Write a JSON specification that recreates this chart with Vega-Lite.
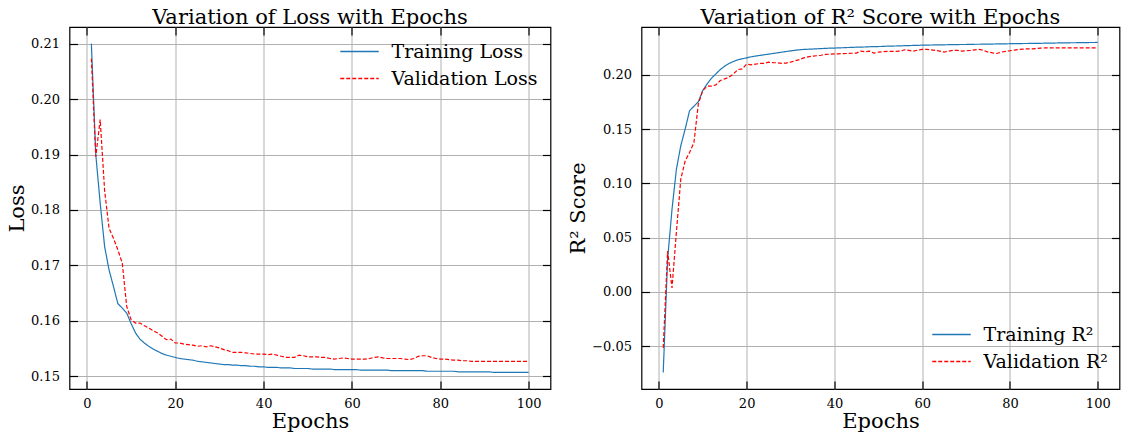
{
 "$schema": "https://vega.github.io/schema/vega-lite/v6.json",
 "background": "white",
 "padding": {"left": 5.5, "top": 6, "right": 3, "bottom": 2},
 "bounds": "flush",
 "spacing": 91,
 "config": {
  "font": "DejaVu Serif",
  "view": {"stroke": "black", "strokeWidth": 1.2},
  "axis": {"domain": false, "grid": true, "gridColor": "#b0b0b0", "gridWidth": 1, "tickColor": "black", "tickSize": -8, "tickWidth": 1.2, "labelFont": "DejaVu Serif", "labelFontSize": 13, "labelColor": "black", "titleFont": "DejaVu Serif", "titleFontSize": 21, "titleFontWeight": "normal", "titleColor": "black"},
  "title": {"font": "DejaVu Serif", "fontSize": 21, "fontWeight": "normal", "color": "black", "offset": -2, "frame": "group"},
  "legend": {"symbolType": "stroke", "symbolSize": 1480, "symbolStrokeWidth": 1.4, "symbolOpacity": 1, "labelFont": "DejaVu Serif", "labelFontSize": 19, "labelColor": "black", "labelOffset": 12, "clipHeight": 22, "rowPadding": 5, "padding": 0, "title": null}
 },
 "datasets": {"hist": [
{"epoch":1,"train_loss":0.2100,"val_loss":0.2073,"train_r2":-0.0743,"val_r2":-0.0518},
{"epoch":2,"train_loss":0.1900,"val_loss":0.1896,"train_r2":0.0300,"val_r2":0.0375},
{"epoch":3,"train_loss":0.1812,"val_loss":0.1963,"train_r2":0.0760,"val_r2":0.0037},
{"epoch":4,"train_loss":0.1734,"val_loss":0.1835,"train_r2":0.1130,"val_r2":0.0550},
{"epoch":5,"train_loss":0.1692,"val_loss":0.1767,"train_r2":0.1346,"val_r2":0.1038},
{"epoch":6,"train_loss":0.1662,"val_loss":0.1749,"train_r2":0.1500,"val_r2":0.1207},
{"epoch":7,"train_loss":0.1631,"val_loss":0.1728,"train_r2":0.1669,"val_r2":0.1284},
{"epoch":8,"train_loss":0.1623,"val_loss":0.1704,"train_r2":0.1710,"val_r2":0.1377},
{"epoch":9,"train_loss":0.1614,"val_loss":0.1626,"train_r2":0.1752,"val_r2":0.1731},
{"epoch":10,"train_loss":0.1595,"val_loss":0.1602,"train_r2":0.1854,"val_r2":0.1854},
{"epoch":11,"train_loss":0.1578,"val_loss":0.1596,"train_r2":0.1916,"val_r2":0.1895},
{"epoch":12,"train_loss":0.1567,"val_loss":0.1596,"train_r2":0.1968,"val_r2":0.1895},
{"epoch":13,"train_loss":0.1560,"val_loss":0.1591,"train_r2":0.2008,"val_r2":0.1907},
{"epoch":14,"train_loss":0.1554,"val_loss":0.1587,"train_r2":0.2048,"val_r2":0.1947},
{"epoch":15,"train_loss":0.1549,"val_loss":0.1582,"train_r2":0.2079,"val_r2":0.1962},
{"epoch":16,"train_loss":0.1545,"val_loss":0.1578,"train_r2":0.2104,"val_r2":0.1978},
{"epoch":17,"train_loss":0.1541,"val_loss":0.1572,"train_r2":0.2122,"val_r2":0.2008},
{"epoch":18,"train_loss":0.1538,"val_loss":0.1566,"train_r2":0.2138,"val_r2":0.2048},
{"epoch":19,"train_loss":0.1536,"val_loss":0.1567,"train_r2":0.2147,"val_r2":0.2054},
{"epoch":20,"train_loss":0.1534,"val_loss":0.1560,"train_r2":0.2156,"val_r2":0.2098},
{"epoch":21,"train_loss":0.1532,"val_loss":0.1560,"train_r2":0.2165,"val_r2":0.2092},
{"epoch":22,"train_loss":0.1531,"val_loss":0.1558,"train_r2":0.2172,"val_r2":0.2098},
{"epoch":23,"train_loss":0.1530,"val_loss":0.1557,"train_r2":0.2178,"val_r2":0.2104},
{"epoch":24,"train_loss":0.1529,"val_loss":0.1556,"train_r2":0.2184,"val_r2":0.2104},
{"epoch":25,"train_loss":0.1527,"val_loss":0.1554,"train_r2":0.2190,"val_r2":0.2116},
{"epoch":26,"train_loss":0.1526,"val_loss":0.1555,"train_r2":0.2196,"val_r2":0.2112},
{"epoch":27,"train_loss":0.1525,"val_loss":0.1553,"train_r2":0.2202,"val_r2":0.2110},
{"epoch":28,"train_loss":0.1524,"val_loss":0.1555,"train_r2":0.2208,"val_r2":0.2105},
{"epoch":29,"train_loss":0.1523,"val_loss":0.1553,"train_r2":0.2214,"val_r2":0.2108},
{"epoch":30,"train_loss":0.1522,"val_loss":0.1551,"train_r2":0.2220,"val_r2":0.2116},
{"epoch":31,"train_loss":0.1521,"val_loss":0.1548,"train_r2":0.2225,"val_r2":0.2128},
{"epoch":32,"train_loss":0.1521,"val_loss":0.1546,"train_r2":0.2230,"val_r2":0.2140},
{"epoch":33,"train_loss":0.1520,"val_loss":0.1543,"train_r2":0.2233,"val_r2":0.2155},
{"epoch":34,"train_loss":0.1520,"val_loss":0.1543,"train_r2":0.2235,"val_r2":0.2165},
{"epoch":35,"train_loss":0.1519,"val_loss":0.1543,"train_r2":0.2237,"val_r2":0.2172},
{"epoch":36,"train_loss":0.1519,"val_loss":0.1542,"train_r2":0.2239,"val_r2":0.2175},
{"epoch":37,"train_loss":0.1518,"val_loss":0.1541,"train_r2":0.2241,"val_r2":0.2180},
{"epoch":38,"train_loss":0.1518,"val_loss":0.1540,"train_r2":0.2243,"val_r2":0.2187},
{"epoch":39,"train_loss":0.1517,"val_loss":0.1540,"train_r2":0.2245,"val_r2":0.2190},
{"epoch":40,"train_loss":0.1517,"val_loss":0.1540,"train_r2":0.2246,"val_r2":0.2193},
{"epoch":41,"train_loss":0.1516,"val_loss":0.1539,"train_r2":0.2248,"val_r2":0.2193},
{"epoch":42,"train_loss":0.1516,"val_loss":0.1540,"train_r2":0.2249,"val_r2":0.2195},
{"epoch":43,"train_loss":0.1516,"val_loss":0.1538,"train_r2":0.2251,"val_r2":0.2196},
{"epoch":44,"train_loss":0.1515,"val_loss":0.1536,"train_r2":0.2252,"val_r2":0.2198},
{"epoch":45,"train_loss":0.1515,"val_loss":0.1534,"train_r2":0.2254,"val_r2":0.2200},
{"epoch":46,"train_loss":0.1515,"val_loss":0.1534,"train_r2":0.2255,"val_r2":0.2218},
{"epoch":47,"train_loss":0.1514,"val_loss":0.1534,"train_r2":0.2256,"val_r2":0.2212},
{"epoch":48,"train_loss":0.1514,"val_loss":0.1538,"train_r2":0.2258,"val_r2":0.2218},
{"epoch":49,"train_loss":0.1514,"val_loss":0.1537,"train_r2":0.2259,"val_r2":0.2199},
{"epoch":50,"train_loss":0.1514,"val_loss":0.1535,"train_r2":0.2260,"val_r2":0.2209},
{"epoch":51,"train_loss":0.1513,"val_loss":0.1535,"train_r2":0.2261,"val_r2":0.2212},
{"epoch":52,"train_loss":0.1513,"val_loss":0.1535,"train_r2":0.2263,"val_r2":0.2215},
{"epoch":53,"train_loss":0.1513,"val_loss":0.1534,"train_r2":0.2264,"val_r2":0.2215},
{"epoch":54,"train_loss":0.1513,"val_loss":0.1534,"train_r2":0.2265,"val_r2":0.2215},
{"epoch":55,"train_loss":0.1513,"val_loss":0.1532,"train_r2":0.2266,"val_r2":0.2218},
{"epoch":56,"train_loss":0.1512,"val_loss":0.1531,"train_r2":0.2268,"val_r2":0.2230},
{"epoch":57,"train_loss":0.1512,"val_loss":0.1532,"train_r2":0.2269,"val_r2":0.2224},
{"epoch":58,"train_loss":0.1512,"val_loss":0.1533,"train_r2":0.2270,"val_r2":0.2218},
{"epoch":59,"train_loss":0.1512,"val_loss":0.1532,"train_r2":0.2271,"val_r2":0.2227},
{"epoch":60,"train_loss":0.1512,"val_loss":0.1531,"train_r2":0.2273,"val_r2":0.2233},
{"epoch":61,"train_loss":0.1512,"val_loss":0.1531,"train_r2":0.2273,"val_r2":0.2233},
{"epoch":62,"train_loss":0.1511,"val_loss":0.1531,"train_r2":0.2274,"val_r2":0.2230},
{"epoch":63,"train_loss":0.1511,"val_loss":0.1531,"train_r2":0.2275,"val_r2":0.2224},
{"epoch":64,"train_loss":0.1511,"val_loss":0.1532,"train_r2":0.2275,"val_r2":0.2218},
{"epoch":65,"train_loss":0.1511,"val_loss":0.1534,"train_r2":0.2276,"val_r2":0.2209},
{"epoch":66,"train_loss":0.1511,"val_loss":0.1535,"train_r2":0.2277,"val_r2":0.2218},
{"epoch":67,"train_loss":0.1511,"val_loss":0.1533,"train_r2":0.2277,"val_r2":0.2224},
{"epoch":68,"train_loss":0.1511,"val_loss":0.1532,"train_r2":0.2278,"val_r2":0.2224},
{"epoch":69,"train_loss":0.1510,"val_loss":0.1532,"train_r2":0.2279,"val_r2":0.2218},
{"epoch":70,"train_loss":0.1510,"val_loss":0.1532,"train_r2":0.2279,"val_r2":0.2221},
{"epoch":71,"train_loss":0.1510,"val_loss":0.1532,"train_r2":0.2280,"val_r2":0.2224},
{"epoch":72,"train_loss":0.1510,"val_loss":0.1531,"train_r2":0.2281,"val_r2":0.2230},
{"epoch":73,"train_loss":0.1510,"val_loss":0.1530,"train_r2":0.2281,"val_r2":0.2233},
{"epoch":74,"train_loss":0.1510,"val_loss":0.1532,"train_r2":0.2282,"val_r2":0.2224},
{"epoch":75,"train_loss":0.1510,"val_loss":0.1536,"train_r2":0.2283,"val_r2":0.2209},
{"epoch":76,"train_loss":0.1510,"val_loss":0.1537,"train_r2":0.2283,"val_r2":0.2202},
{"epoch":77,"train_loss":0.1509,"val_loss":0.1537,"train_r2":0.2284,"val_r2":0.2196},
{"epoch":78,"train_loss":0.1509,"val_loss":0.1534,"train_r2":0.2285,"val_r2":0.2209},
{"epoch":79,"train_loss":0.1509,"val_loss":0.1532,"train_r2":0.2285,"val_r2":0.2215},
{"epoch":80,"train_loss":0.1509,"val_loss":0.1531,"train_r2":0.2286,"val_r2":0.2221},
{"epoch":81,"train_loss":0.1509,"val_loss":0.1531,"train_r2":0.2287,"val_r2":0.2227},
{"epoch":82,"train_loss":0.1509,"val_loss":0.1530,"train_r2":0.2287,"val_r2":0.2233},
{"epoch":83,"train_loss":0.1509,"val_loss":0.1529,"train_r2":0.2288,"val_r2":0.2236},
{"epoch":84,"train_loss":0.1508,"val_loss":0.1529,"train_r2":0.2288,"val_r2":0.2239},
{"epoch":85,"train_loss":0.1508,"val_loss":0.1528,"train_r2":0.2289,"val_r2":0.2239},
{"epoch":86,"train_loss":0.1508,"val_loss":0.1528,"train_r2":0.2290,"val_r2":0.2242},
{"epoch":87,"train_loss":0.1508,"val_loss":0.1527,"train_r2":0.2290,"val_r2":0.2246},
{"epoch":88,"train_loss":0.1508,"val_loss":0.1527,"train_r2":0.2291,"val_r2":0.2247},
{"epoch":89,"train_loss":0.1508,"val_loss":0.1527,"train_r2":0.2292,"val_r2":0.2247},
{"epoch":90,"train_loss":0.1508,"val_loss":0.1527,"train_r2":0.2292,"val_r2":0.2247},
{"epoch":91,"train_loss":0.1508,"val_loss":0.1527,"train_r2":0.2293,"val_r2":0.2247},
{"epoch":92,"train_loss":0.1507,"val_loss":0.1527,"train_r2":0.2293,"val_r2":0.2247},
{"epoch":93,"train_loss":0.1507,"val_loss":0.1527,"train_r2":0.2294,"val_r2":0.2247},
{"epoch":94,"train_loss":0.1507,"val_loss":0.1527,"train_r2":0.2295,"val_r2":0.2247},
{"epoch":95,"train_loss":0.1507,"val_loss":0.1527,"train_r2":0.2295,"val_r2":0.2247},
{"epoch":96,"train_loss":0.1507,"val_loss":0.1527,"train_r2":0.2296,"val_r2":0.2247},
{"epoch":97,"train_loss":0.1507,"val_loss":0.1527,"train_r2":0.2296,"val_r2":0.2247},
{"epoch":98,"train_loss":0.1507,"val_loss":0.1527,"train_r2":0.2297,"val_r2":0.2247},
{"epoch":99,"train_loss":0.1507,"val_loss":0.1527,"train_r2":0.2297,"val_r2":0.2247},
{"epoch":100,"train_loss":0.1507,"val_loss":0.1527,"train_r2":0.2298,"val_r2":0.2247}
 ]},
 "resolve": {"scale": {"color": "independent", "strokeDash": "independent"}, "legend": {"color": "independent", "strokeDash": "independent"}},
 "hconcat": [
  {
   "width": 481, "height": 362,
   "title": "Variation of Loss with Epochs",
   "data": {"name": "hist"},
   "transform": [{"fold": ["train_loss", "val_loss"], "as": ["series", "value"]}],
   "layer": [
    {
     "mark": {"type": "line", "strokeWidth": 1.2, "clip": true},
     "encoding": {
      "x": {"field": "epoch", "type": "quantitative", "scale": {"domain": [-3.95, 104.95], "nice": false, "zero": false}, "axis": {"values": [0, 20, 40, 60, 80, 100], "title": "Epochs", "labelPadding": 16, "titlePadding": 0}},
      "y": {"field": "value", "type": "quantitative", "scale": {"domain": [0.1477, 0.2130], "nice": false, "zero": false}, "axis": {"values": [0.15, 0.16, 0.17, 0.18, 0.19, 0.2, 0.21], "format": ".2f", "title": "Loss", "labelPadding": 18, "titlePadding": 3}},
      "color": {"field": "series", "type": "nominal", "scale": {"domain": ["train_loss", "val_loss"], "range": ["#1f77b4", "red"]}, "legend": {"orient": "none", "legendX": 270, "legendY": 13.5, "labelExpr": "datum.value == 'train_loss' ? 'Training Loss' : 'Validation Loss'"}},
      "strokeDash": {"field": "series", "type": "nominal", "scale": {"domain": ["train_loss", "val_loss"], "range": [[1, 0], [4, 2]]}, "legend": {"orient": "none", "legendX": 270, "legendY": 13.5, "labelExpr": "datum.value == 'train_loss' ? 'Training Loss' : 'Validation Loss'"}}
     }
    },
    {
     "mark": {"type": "line", "opacity": 0},
     "encoding": {
      "x": {"field": "epoch", "type": "quantitative", "axis": {"orient": "top", "values": [0, 20, 40, 60, 80, 100], "labels": false, "grid": false, "title": null}},
      "y": {"field": "value", "type": "quantitative", "axis": {"orient": "right", "values": [0.15, 0.16, 0.17, 0.18, 0.19, 0.2, 0.21], "labels": false, "grid": false, "title": null}}
     }
    }
   ],
   "resolve": {"axis": {"x": "independent", "y": "independent"}}
  },
  {
   "width": 478, "height": 362,
   "title": "Variation of R² Score with Epochs",
   "data": {"name": "hist"},
   "transform": [{"fold": ["train_r2", "val_r2"], "as": ["series", "value"]}],
   "layer": [
    {
     "mark": {"type": "line", "strokeWidth": 1.2, "clip": true},
     "encoding": {
      "x": {"field": "epoch", "type": "quantitative", "scale": {"domain": [-3.95, 104.95], "nice": false, "zero": false}, "axis": {"values": [0, 20, 40, 60, 80, 100], "title": "Epochs", "labelPadding": 16, "titlePadding": 0}},
      "y": {"field": "value", "type": "quantitative", "scale": {"domain": [-0.0895, 0.2440], "nice": false, "zero": false}, "axis": {"values": [-0.05, 0, 0.05, 0.1, 0.15, 0.2], "labelExpr": "datum.value < 0 ? '\u2212' + format(-datum.value, '.2f') : format(datum.value, '.2f')", "title": "R² Score", "labelPadding": 18, "titlePadding": 3}},
      "color": {"field": "series", "type": "nominal", "scale": {"domain": ["train_r2", "val_r2"], "range": ["#1f77b4", "red"]}, "legend": {"orient": "none", "legendX": 290, "legendY": 296.5, "labelExpr": "datum.value == 'train_r2' ? 'Training R²' : 'Validation R²'"}},
      "strokeDash": {"field": "series", "type": "nominal", "scale": {"domain": ["train_r2", "val_r2"], "range": [[1, 0], [4, 2]]}, "legend": {"orient": "none", "legendX": 290, "legendY": 296.5, "labelExpr": "datum.value == 'train_r2' ? 'Training R²' : 'Validation R²'"}}
     }
    },
    {
     "mark": {"type": "line", "opacity": 0},
     "encoding": {
      "x": {"field": "epoch", "type": "quantitative", "axis": {"orient": "top", "values": [0, 20, 40, 60, 80, 100], "labels": false, "grid": false, "title": null}},
      "y": {"field": "value", "type": "quantitative", "axis": {"orient": "right", "values": [-0.05, 0, 0.05, 0.1, 0.15, 0.2], "labels": false, "grid": false, "title": null}}
     }
    }
   ],
   "resolve": {"axis": {"x": "independent", "y": "independent"}}
  }
 ]
}
